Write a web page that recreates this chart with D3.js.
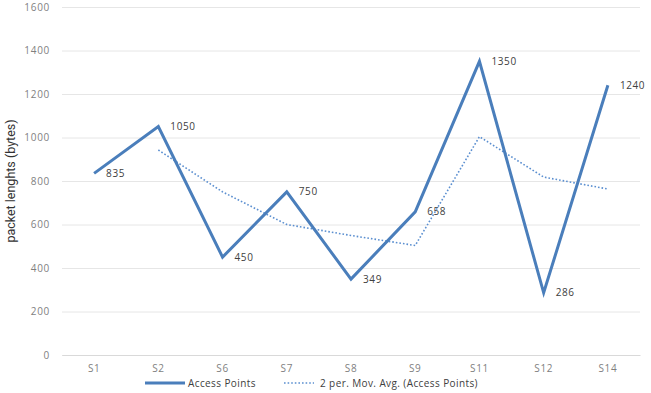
<!DOCTYPE html>
<html>
<head>
<meta charset="utf-8">
<script src="https://cdn.jsdelivr.net/npm/d3@7"></script>
<style>
  body { margin: 0; background: #fff; }
  svg { display: block; }
</style>
</head>
<body>
<div id="chart"></div>
<script>
var categories = ["S1", "S2", "S6", "S7", "S8", "S9", "S11", "S12", "S14"];
var accessPoints = [835, 1050, 450, 750, 349, 658, 1350, 286, 1240];
// moving average values (starts at S2)
var movAvg = [null, 942.5, 750, 600, 549.5, 503.5, 1004, 818, 763];
var yTicks = [0, 200, 400, 600, 800, 1000, 1200, 1400, 1600];

drawChart();

function drawChart() {
  var w = 651, h = 393;
  var pLeft = 62, pRight = 640, pTop = 7, pBottom = 355;
  var font = "'Open Sans', sans-serif";

  var svg = d3.select("#chart").append("svg")
    .attr("width", w)
    .attr("height", h);

  var x = d3.scaleBand().domain(categories).range([pLeft, pRight]);
  var y = d3.scaleLinear().domain([0, 1600]).range([pBottom, pTop]);
  var cx = function(c) { return x(c) + x.bandwidth() / 2; };

  // gridlines + y tick labels
  var yAxis = d3.axisLeft(y).tickValues(yTicks).tickFormat(d3.format("d"))
    .tickSize(-(pRight - pLeft)).tickPadding(12);
  var gy = svg.append("g").attr("transform", "translate(" + pLeft + ",0)").call(yAxis);
  gy.select(".domain").remove();
  gy.selectAll(".tick line").attr("stroke", "#e6e6e6").attr("stroke-width", 1);
  gy.selectAll(".tick text")
    .attr("fill", "#7f7f7f")
    .style("font-family", font)
    .style("font-size", "10px")
    .style("letter-spacing", "0.7px");

  // x axis
  var xAxis = d3.axisBottom(x).tickSize(0).tickPadding(10);
  var gx = svg.append("g").attr("transform", "translate(0," + pBottom + ")").call(xAxis);
  gx.select(".domain").attr("stroke", "#d9d9d9");
  gx.selectAll(".tick text")
    .attr("fill", "#7f7f7f")
    .style("font-family", font)
    .style("font-size", "10px")
    .style("letter-spacing", "0.6px");

  // y title
  svg.append("text")
    .attr("transform", "translate(15," + ((pTop + pBottom) / 2) + ") rotate(-90)")
    .attr("text-anchor", "middle")
    .attr("fill", "#333")
    .style("font-family", "'Liberation Sans Narrow', 'Roboto', sans-serif")
    .style("font-size", "12.5px")
    .text("packet lenghts (bytes)");

  var blue = "#4a7ebb";

  // moving average (dotted)
  var maLine = d3.line()
    .defined(function(d) { return d.v != null; })
    .x(function(d) { return cx(d.c); })
    .y(function(d) { return y(d.v); });
  svg.append("path")
    .datum(categories.map(function(c, i) { return {c: c, v: movAvg[i]}; }))
    .attr("d", maLine)
    .attr("fill", "none")
    .attr("stroke", "#5b8fd0")
    .attr("stroke-width", 1.6)
    .attr("stroke-dasharray", "1.6,2");

  // main series
  var apLine = d3.line()
    .x(function(d) { return cx(d.c); })
    .y(function(d) { return y(d.v); });
  var apData = categories.map(function(c, i) { return {c: c, v: accessPoints[i]}; });
  svg.append("path")
    .datum(apData)
    .attr("d", apLine)
    .attr("fill", "none")
    .attr("stroke", blue)
    .attr("stroke-width", 3)
    .attr("stroke-linejoin", "miter");

  // data labels
  svg.selectAll("text.lbl")
    .data(apData)
    .enter().append("text")
    .attr("class", "lbl")
    .attr("x", function(d) { return cx(d.c) + 12; })
    .attr("y", function(d) { return y(d.v); })
    .attr("dy", "0.35em")
    .attr("fill", "#404040")
    .style("font-family", font)
    .style("font-size", "10px")
    .style("letter-spacing", "0.6px")
    .text(function(d) { return d.v; });

  // legend
  var lg = svg.append("g").attr("transform", "translate(0,383)");
  lg.append("line").attr("x1", 145).attr("x2", 185).attr("y1", 0).attr("y2", 0)
    .attr("stroke", blue).attr("stroke-width", 3);
  lg.append("text").attr("x", 188).attr("y", 0).attr("dy", "0.35em")
    .attr("fill", "#404040")
    .style("font-family", font).style("font-size", "10px").style("letter-spacing", "0.4px")
    .text("Access Points");
  lg.append("line").attr("x1", 284).attr("x2", 314).attr("y1", 0).attr("y2", 0)
    .attr("stroke", "#5b8fd0").attr("stroke-width", 1.6).attr("stroke-dasharray", "1.6,2");
  lg.append("text").attr("x", 320).attr("y", 0).attr("dy", "0.35em")
    .attr("fill", "#404040")
    .style("font-family", font).style("font-size", "10px").style("letter-spacing", "0.4px")
    .text("2 per. Mov. Avg. (Access Points)");
}
</script>
</body>
</html>
